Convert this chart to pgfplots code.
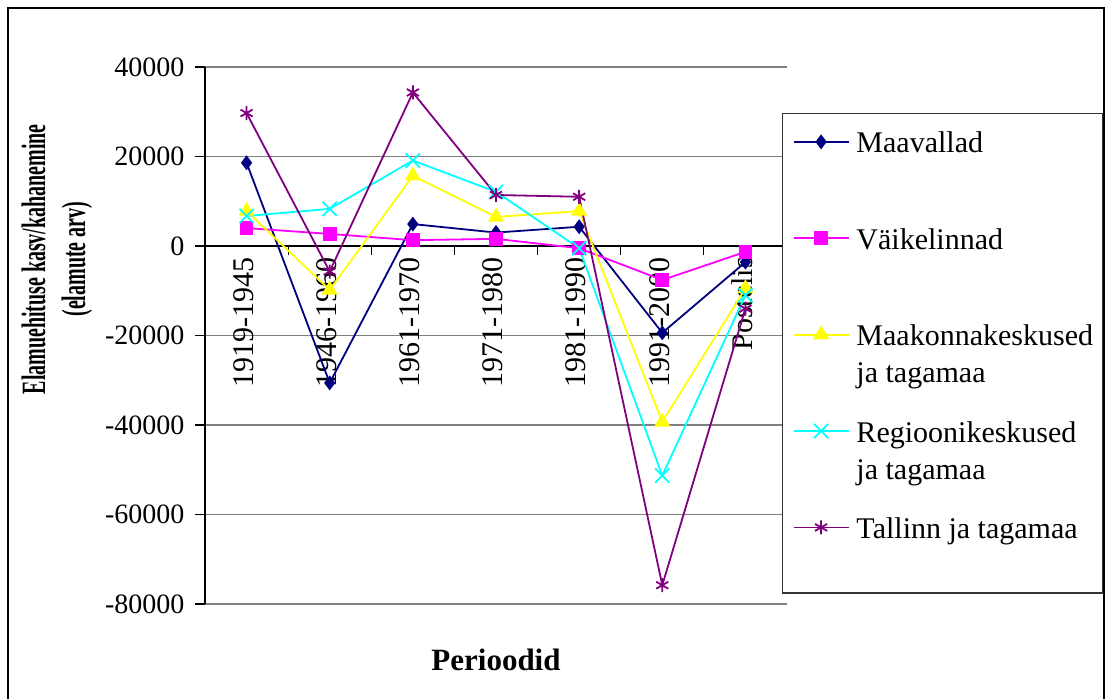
\documentclass[border=0pt]{standalone}
\usepackage{pgfplots}
\pgfplotsset{compat=1.18}
\usepackage{graphicx}
\usepackage{fontspec}
\setmainfont{Liberation Serif}

\definecolor{cMaa}{RGB}{0,0,128}
\definecolor{cVai}{RGB}{255,0,255}
\definecolor{cMk}{RGB}{255,255,0}
\definecolor{cReg}{RGB}{0,255,255}
\definecolor{cTal}{RGB}{128,0,128}

% second line of a legend entry, pulled up to normal line spacing
\newcommand{\secondline}[1]{\strut\smash{\raisebox{5.5pt}{#1}}}

\begin{document}
\begin{tikzpicture}
\begin{axis}[
  at={(0,0)}, anchor=south west,
  scale only axis, width=291pt, height=268.5pt,
  xmin=-0.5, xmax=6.5, ymin=-80000, ymax=40000,
  axis x line*=middle, axis y line*=left,
  axis line style={black, line width=0.6pt},
  xtick={0.5,1.5,...,5.5},
  xticklabels={},
  extra x ticks={0,...,6},
  extra x tick labels={1919-1945,1946-1960,1961-1970,1971-1980,1981-1990,1991-2000,Postelis},
  extra x tick style={major tick length=0pt,
    xticklabel style={rotate=90, anchor=east, font=\fontsize{15}{17}\selectfont, xshift=-2pt, yshift=1.5pt}},
  major tick length=4.75pt,
  tick align=outside,
  tick style={black, line width=0.6pt},
  ytick={-80000,-60000,-40000,-20000,0,20000,40000},
  yticklabels={-80000,-60000,-40000,-20000,0,20000,40000},
  scaled y ticks=false,
  yticklabel style={font=\fontsize{14}{16}\selectfont, xshift=-2pt},
  ymajorgrids,
  major grid style={gray, line width=0.7pt},
  xlabel={Perioodid},
  xlabel style={at={(rel axis cs:0.5,-0.104)}, anchor=center, font=\fontsize{15.5}{18}\selectfont\bfseries},
  ylabel={\scalebox{0.587}[1]{\begin{tabular}{@{}c@{}}Elamuehituse kasv/kahanemine\\(elamute arv)\end{tabular}}},
  ylabel style={at={(rel axis cs:-0.254,0.642)}, anchor=center, font=\fontsize{17}{20}\selectfont\bfseries},
  legend style={at={(0.9914,0.9143)}, anchor=north west, draw=black!80, line width=0.7pt,
    fill=white, inner xsep=5pt, inner ysep=7pt, row sep=10pt, column sep=3.5pt,
    nodes={inner sep=0pt}, font=\fontsize{15}{18}\selectfont},
  legend cell align=left,
  legend image code/.code={\draw[mark repeat=2,mark phase=2] plot coordinates {(0pt,0pt)(13.75pt,0pt)(27.5pt,0pt)};},
  every axis plot/.append style={line width=0.9pt},
]
\addplot[color=cMaa, mark=diamond*, mark size=3pt] coordinates {
  (0,18600) (1,-30600) (2,4900) (3,3000) (4,4300) (5,-19400) (6,-3600)};
\addlegendentry{\strut Maavallad}
\addlegendimage{empty legend}
\addlegendentry{\strut}
\addplot[color=cVai, mark=square*, mark size=3pt] coordinates {
  (0,4000) (1,2700) (2,1300) (3,1600) (4,-500) (5,-7600) (6,-1300)};
\addlegendentry{\strut Väikelinnad}
\addlegendimage{empty legend}
\addlegendentry{\strut}
\addplot[color=cMk, mark=triangle*, mark size=3.75pt] coordinates {
  (0,7800) (1,-9800) (2,15700) (3,6500) (4,7800) (5,-39300) (6,-9500)};
\addlegendentry{\strut Maakonnakeskused}
\addlegendimage{empty legend}
\addlegendentry{\secondline{ja tagamaa}}
\addplot[color=cReg, mark=x, mark size=5pt] coordinates {
  (0,6700) (1,8300) (2,19100) (3,12100) (4,-500) (5,-51300) (6,-11000)};
\addlegendentry{\strut Regioonikeskused}
\addlegendimage{empty legend}
\addlegendentry{\secondline{ja tagamaa}}
\addplot[color=cTal, mark=asterisk, mark size=3.5pt] coordinates {
  (0,29700) (1,-5700) (2,34300) (3,11400) (4,11000) (5,-75800) (6,-14000)};
\addlegendentry{\strut Tallinn ja tagamaa}
\addlegendimage{empty legend}
\addlegendentry{\rule{0pt}{7.25pt}}
\end{axis}
\draw[black, line width=0.75pt] (-98.5pt,-48pt) -- (-98.5pt,298pt) -- (449.5pt,298pt) -- (449.5pt,-48pt);
\pgfresetboundingbox
\useasboundingbox (-102.5pt,-47pt) rectangle (451pt,302pt);
\end{tikzpicture}
\end{document}
